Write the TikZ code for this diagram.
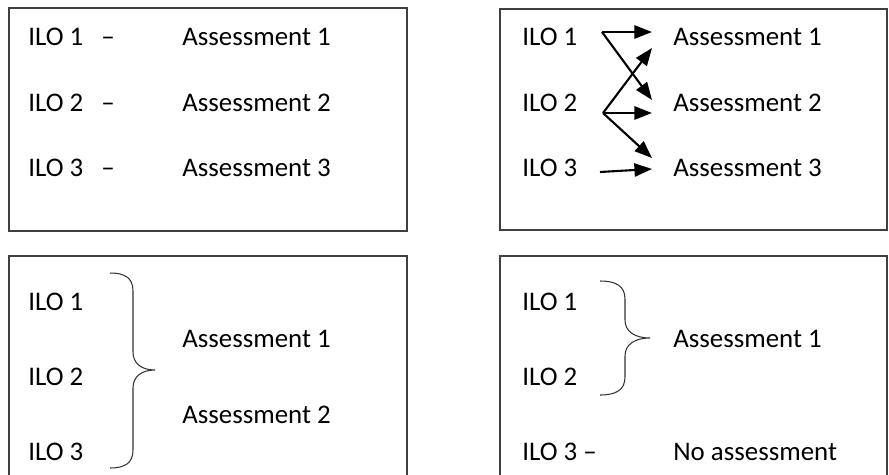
\documentclass[tikz,border=0pt]{standalone}
\usepackage{fontspec}
\setmainfont{Carlito}
\usetikzlibrary{arrows.meta}

\tikzset{
  txt/.style={anchor=west,inner sep=0pt,text height=9.8pt,text depth=0pt,font=\fontsize{15.3}{18}\selectfont},
  frame/.style={draw=black!75,line width=0.8pt},
  arr/.style={line width=1.2pt,-{Triangle[length=10pt,width=7.5pt]}},
  grp/.style={draw=black!80,line width=0.6pt}
}

\begin{document}
\begin{tikzpicture}[x=0.02cm,y=-0.02cm]
	\useasboundingbox (0,0) rectangle (889,474);
	% frames
	\draw [frame] (9,8) rectangle (407,231);
	\draw [frame] (500,9) rectangle (887,230);
	\draw [frame] (9,480) -- (9,256) -- (407,256) -- (407,480);
	\draw [frame] (500,480) -- (500,256) -- (887,256) -- (887,480);
	% one to one
	\foreach \i/\y in {1/37,2/103,3/168} {
		\node [txt] (lilo\i) at (28,\y) {ILO \i};
		\node [txt] (ldash\i) at (101,\y) {--};
		\node [txt] (lass\i) at (182,\y) {Assessment \i};
	}
	% many to many
	\foreach \i/\y in {1/37,2/103,3/168} {
		\node [txt] (rilo\i) at (522,\y) {ILO \i};
		\node [txt] (rass\i) at (673,\y) {Assessment \i};
	}
	\coordinate (ro1) at (602,32);
	\coordinate (ro2) at (603,113);
	\coordinate (ro3) at (600,172);
	\coordinate (ri11) at (652,32);
	\coordinate (ri12) at (652,100);
	\coordinate (ri21) at (652,48);
	\coordinate (ri22) at (652,113);
	\coordinate (ri23) at (652,158);
	\coordinate (ri33) at (652,169);
	\draw [arr] (ro1) -- (ri11);
	\draw [arr] (ro1) -- (ri12);
	\draw [arr] (ro2) -- (ri21);
	\draw [arr] (ro2) -- (ri22);
	\draw [arr] (ro2) -- (ri23);
	\draw [arr] (ro3) -- (ri33);
	% three to two
	\foreach \i/\y in {1/302,2/377,3/452}
		\node [txt] (bilo\i) at (28,\y) {ILO \i};
	\node [txt] (bass1) at (182,339) {Assessment 1};
	\node [txt] (bass2) at (182,415) {Assessment 2};
	\draw [grp] (110,273) .. controls (125,273) and (133,278) .. (133,291)
		-- (133,352) .. controls (133,363) and (141,370) .. (155,370)
		.. controls (141,370) and (133,377) .. (133,388)
		-- (133,450) .. controls (133,463) and (125,468) .. (110,468);
	% two to one, one left out
	\node [txt] (dilo1) at (522,302) {ILO 1};
	\node [txt] (dilo2) at (522,377) {ILO 2};
	\node [txt] (dilo3) at (522,452) {ILO 3 --};
	\node [txt] (dass1) at (673,339) {Assessment 1};
	\node [txt] (dnone) at (673,452) {No assessment};
	\draw [grp] (600,281) .. controls (616,281) and (625,286) .. (625,299)
		-- (625,320) .. controls (625,331) and (634,338) .. (650,338)
		.. controls (634,338) and (625,345) .. (625,356)
		-- (625,377) .. controls (625,390) and (616,395) .. (600,395);
\end{tikzpicture}
\end{document}
